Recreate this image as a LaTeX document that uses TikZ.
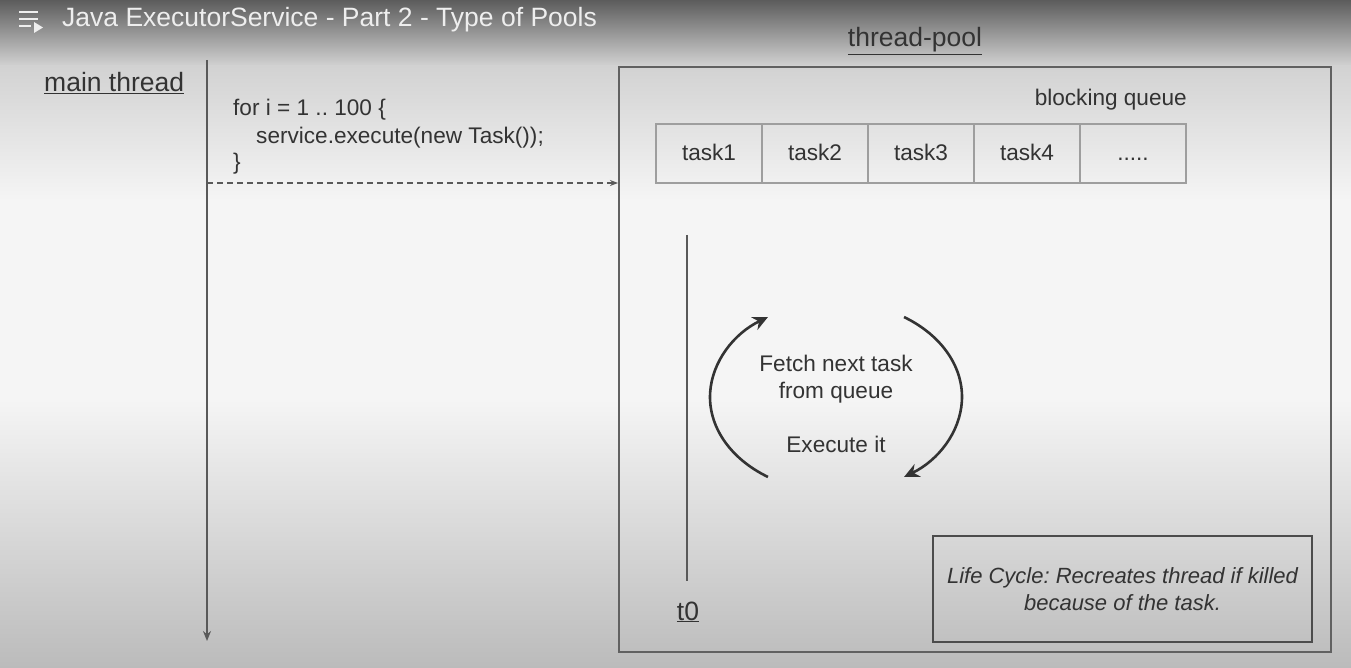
\documentclass[tikz,border=0pt]{standalone}
\usepackage{fontspec}
\setmainfont{Liberation Sans}
\usetikzlibrary{arrows.meta}
\definecolor{barTop}{HTML}{5C5C5C}
\definecolor{barBot}{HTML}{D2D2D2}
\definecolor{paper}{HTML}{F5F5F5}
\definecolor{paperBot}{HTML}{BBBBBB}
\definecolor{ink}{HTML}{333333}
\definecolor{titleInk}{HTML}{EEEEEE}
\newcommand{\txtbig}{\fontsize{26.5}{31}\selectfont}
\newcommand{\txtnorm}{\fontsize{22.6}{27}\selectfont}
\frenchspacing

\tikzset{
	plain/.style={inner sep=0pt, text=ink, font=\txtnorm},
	heading/.style={inner sep=0pt, text=ink, font=\txtbig},
	cell/.style={draw=black!38, line width=1.3pt, minimum width=106pt, minimum height=59pt, inner sep=0pt, text height=16pt, text depth=2pt, text=ink, font=\txtnorm},
	poolbox/.style={draw=black!62, line width=2pt, minimum width=712pt, minimum height=585pt, inner sep=0pt},
	lifebox/.style={draw=black!70, line width=2pt, minimum width=379pt, minimum height=106pt, inner sep=0pt, align=center, text=ink, font=\fontsize{22}{27}\selectfont\itshape},
	timeline/.style={draw=black!65, line width=1.6pt},
	loop/.style={draw=ink, line width=2.6pt, -{Stealth[length=15pt, width=14pt, inset=5pt]}}
}

\begin{document}
\begin{tikzpicture}[x=1pt, y=-1pt]
			%%%%% START %%%%%
			\useasboundingbox (0, 0) rectangle (1351, 668);
			
			% background
			\shade[top color=barTop, bottom color=barBot] (0, 0) rectangle (1351, 66);
			\shade[top color=barBot, bottom color=paper] (0, 65.5) rectangle (1351, 200);
			\fill[paper] (0, 199.5) rectangle (1351, 400);
			\shade[top color=paper, bottom color=paperBot] (0, 399.5) rectangle (1351, 668);
			
			% title bar
			\draw[titleInk, line width=2.6pt] (19, 12) -- (38, 12) (19, 19) -- (38, 19) (19, 26) -- (31, 26);
			\fill[titleInk] (34, 22) -- (43, 27.5) -- (34, 33) -- cycle;
			\node[inner sep=0pt, anchor=base west, text=titleInk, font=\txtbig] (title) at (62, 27) {Java ExecutorService - Part 2 - Type of Pools};
			
			% main thread
			\node[heading, anchor=base west] (mainlbl) at (44, 92) {\underline{main thread}};
			\coordinate (mtop) at (207, 60);
			\coordinate (mbot) at (207, 641);
			\draw[timeline, -{Stealth[length=10pt, width=8pt]}] (mtop) -- (mbot);
			
			\node[plain, anchor=base west] (code1) at (233, 116) {for i = 1 .. 100 \{};
			\node[plain, anchor=base west] (code2) at (256, 144) {service.execute(new Task());};
			\node[plain, anchor=base west] (code3) at (233, 170) {\}};
			
			% thread pool
			\node[poolbox] (pool) at (975, 359.5) {};
			\node[heading, anchor=base] (poollbl) at (915, 47) {\underline{thread-pool}};
			
			\coordinate (dstart) at (207, 183);
			\draw[black!65, line width=1.4pt, dash pattern=on 6pt off 4pt, -{Stealth[length=8pt, width=6pt]}] (dstart) -- (dstart -| pool.west);
			
			% blocking queue
			\node[plain, anchor=base east] (qlbl) at (1187, 106) {blocking queue};
			\foreach \i/\t in {1/task1, 2/task2, 3/task3, 4/task4, 5/{.....}} {
				\node[cell] (q\i) at ({656 + 106*(\i - 0.5)}, 153.5) {\t};
			}
			
			% worker thread
			\coordinate (ttop) at (687, 235);
			\coordinate (tbot) at (687, 581);
			\draw[timeline] (ttop) -- (tbot);
			\node[heading, anchor=base] (t0) at (688, 620) {\underline{t0}};
			
			% fetch / execute loop
			\node[plain, align=center, anchor=base] (fetch) at (836, 398) {Fetch next task\\from queue};
			\node[plain, anchor=base] (exec) at (836, 452) {Execute it};
			\coordinate (lc) at (836, 397);
			\draw[loop] (lc) ++(122.7:126 and 95) arc[start angle=122.7, end angle=237.3, x radius=126, y radius=95];
			\draw[loop] (lc) ++(-57.3:126 and 95) arc[start angle=-57.3, end angle=57.3, x radius=126, y radius=95];
			
			% life cycle note
			\node[lifebox] (life) at (1122.5, 589) {Life Cycle: Recreates thread if killed\\because of the task.};
			%%%%% END %%%%%
\end{tikzpicture}
\end{document}
